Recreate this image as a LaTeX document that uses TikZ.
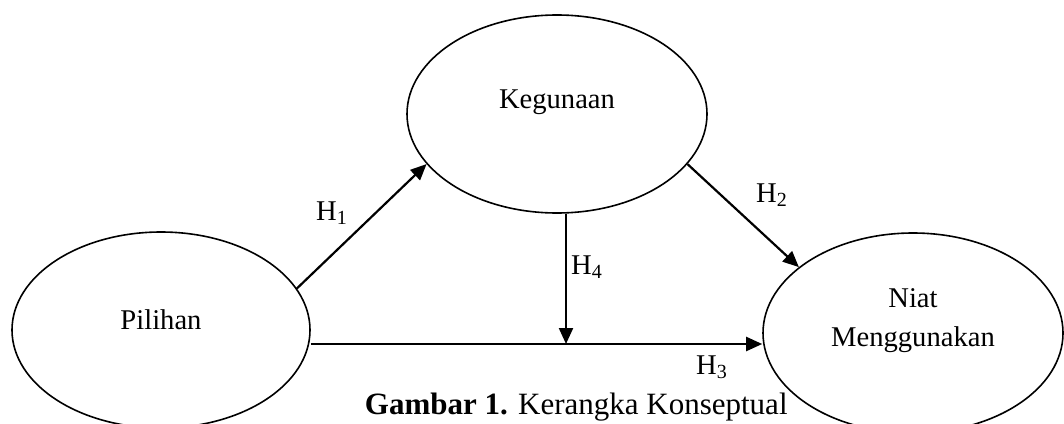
\documentclass[tikz,border=0pt]{standalone}
\usepackage{fontspec}
\setmainfont{Liberation Serif}
\usetikzlibrary{arrows.meta}
\usetikzlibrary{shapes.geometric}

\tikzset{
  var/.style={draw, ellipse, line width=0.8pt, inner sep=0pt,
    minimum width=150pt, minimum height=99pt},
  vartext/.style={align=center, font=\fontsize{14.3}{19.5}\selectfont},
  hyp/.style={font=\fontsize{14.3}{17}\selectfont, inner sep=1pt},
  path/.style={line width=1.1pt, -{Triangle[length=8pt,width=7pt]}}
}

\begin{document}
\begin{tikzpicture}[x=0.5pt, y=-0.5pt]
  \useasboundingbox (0,0) rectangle (1064,423);
  \node[var, minimum width=149pt, minimum height=98pt] (pil) at (161,330) {};
  \node[var] (kg) at (557,114) {};
  \node[var, minimum height=100pt] (nt) at (913,333) {};
  \node[vartext] (pilt) at ([yshift=5pt]pil.center) {Pilihan};
  \node[vartext] (kgt) at ([yshift=6pt]kg.center) {Kegunaan};
  \node[vartext] (ntt) at ([yshift=6pt]nt.center) {Niat\\ Menggunakan};
  \coordinate (mid) at (566,344);
  \draw[path] (pil.17) -- (kg.201);
  \draw[path] (kg.339) -- (nt.150);
  \draw[path] (pil.east |- mid) -- (nt.west |- mid);
  \draw[path] (mid |- kg.south) -- (mid);
  \node[hyp] (h1) at (332,213) {H\textsubscript{1}};
  \node[hyp] (h2) at (772,195) {H\textsubscript{2}};
  \node[hyp] (h3) at (712,367) {H\textsubscript{3}};
  \node[hyp] (h4) at (587,267) {H\textsubscript{4}};
  \node[anchor=east, inner sep=0pt, font=\fontsize{15.5}{18}\selectfont] (cap)
    at (788,407) {\textbf{Gambar 1.} Kerangka Konseptual};
\end{tikzpicture}
\end{document}
